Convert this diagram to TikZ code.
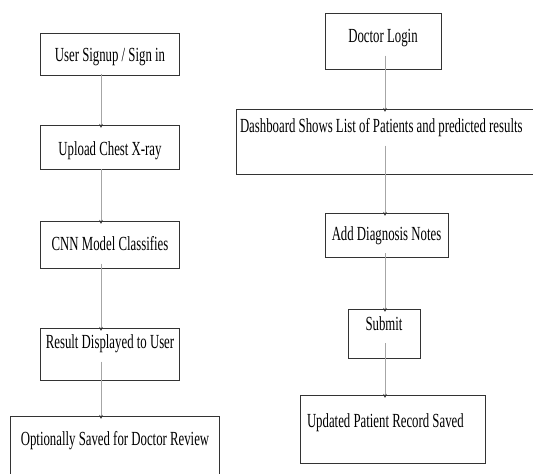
\documentclass[tikz,border=0pt]{standalone}
\usepackage{fontspec}
\setmainfont[FakeStretch=0.64]{Liberation Serif}
\usetikzlibrary{arrows.meta, positioning, calc}

\begin{document}
\begin{tikzpicture}[
    x=1pt, y=1pt,
    stepbox/.style={rectangle, draw=black!80, line width=1pt, inner xsep=4pt, inner ysep=0pt, font=\fontsize{20}{24}\selectfont},
    arrow/.style={draw=gray!70, line width=0.8pt, -{Stealth[length=4pt, width=3.5pt, color=black!80]}}
]
\useasboundingbox (0,0) rectangle (533,-474);
\clip (0,0) rectangle (533,-474);
\coordinate (lx) at (101,0);
\coordinate (rx) at (385,0);

% user side
\node[stepbox, minimum width=139pt, text height=27.5pt, text depth=14.5pt, anchor=north] (u1) at (110,-33) {User Signup / Sign in};
\node[stepbox, minimum width=139pt, text height=30pt, text depth=14pt, below=49pt of u1] (u2) {Upload Chest X-ray};
\node[stepbox, minimum width=139pt, text height=29pt, text depth=18pt, below=51pt of u2] (u3) {CNN Model Classifies};
\node[stepbox, minimum width=139pt, text height=20pt, text depth=32pt, below=59pt of u3] (u4) {Result Displayed to User};
\node[stepbox, minimum width=209pt, text height=28.5pt, text depth=59pt, below=35pt of u4, xshift=5pt] (u5) {Optionally Saved for Doctor Review};

% doctor side
\node[stepbox, minimum width=116pt, text height=29pt, text depth=27pt, anchor=north] (d1) at (383,-13) {Doctor Login};
\node[stepbox, text height=23pt, text depth=42pt, below=39pt of d1, xshift=10pt] (d2) {\makebox[306pt][l]{Dashboard Shows List of Patients and predicted results}};
\node[stepbox, minimum width=123pt, text height=26.5pt, text depth=17.5pt, below=38pt of d2, xshift=-6.5pt] (d3) {Add Diagnosis Notes};
\node[stepbox, minimum width=72pt, text height=20.5pt, text depth=28.5pt, below=51pt of d3, xshift=-2.5pt] (d4) {Submit};
\node[stepbox, inner xsep=7pt, text height=31.5pt, text depth=36.5pt, below=36pt of d4, xshift=8.5pt] (d5) {\makebox[171pt][l]{Updated Patient Record Saved}};

\draw[arrow] ($(u1.base -| lx)+(0,-13)$) -- ($(u2.north -| lx)+(0,-3)$);
\draw[arrow] ($(u2.base -| lx)+(0,-13)$) -- ($(u3.north -| lx)+(0,-3)$);
\draw[arrow] ($(u3.base -| lx)+(0,-13)$) -- ($(u4.north -| lx)+(0,-3)$);
\draw[arrow] ($(u4.base -| lx)+(0,-13)$) -- ($(u5.north -| lx)+(0,-3)$);
\draw[arrow] ($(d1.base -| rx)+(0,-13)$) -- ($(d2.north -| rx)+(0,-3)$);
\draw[arrow] ($(d2.base -| rx)+(0,-13)$) -- ($(d3.north -| rx)+(0,-3)$);
\draw[arrow] ($(d3.base -| rx)+(0,-13)$) -- ($(d4.north -| rx)+(0,-3)$);
\draw[arrow] ($(d4.base -| rx)+(0,-13)$) -- ($(d5.north -| rx)+(0,-3)$);
\end{tikzpicture}
\end{document}
